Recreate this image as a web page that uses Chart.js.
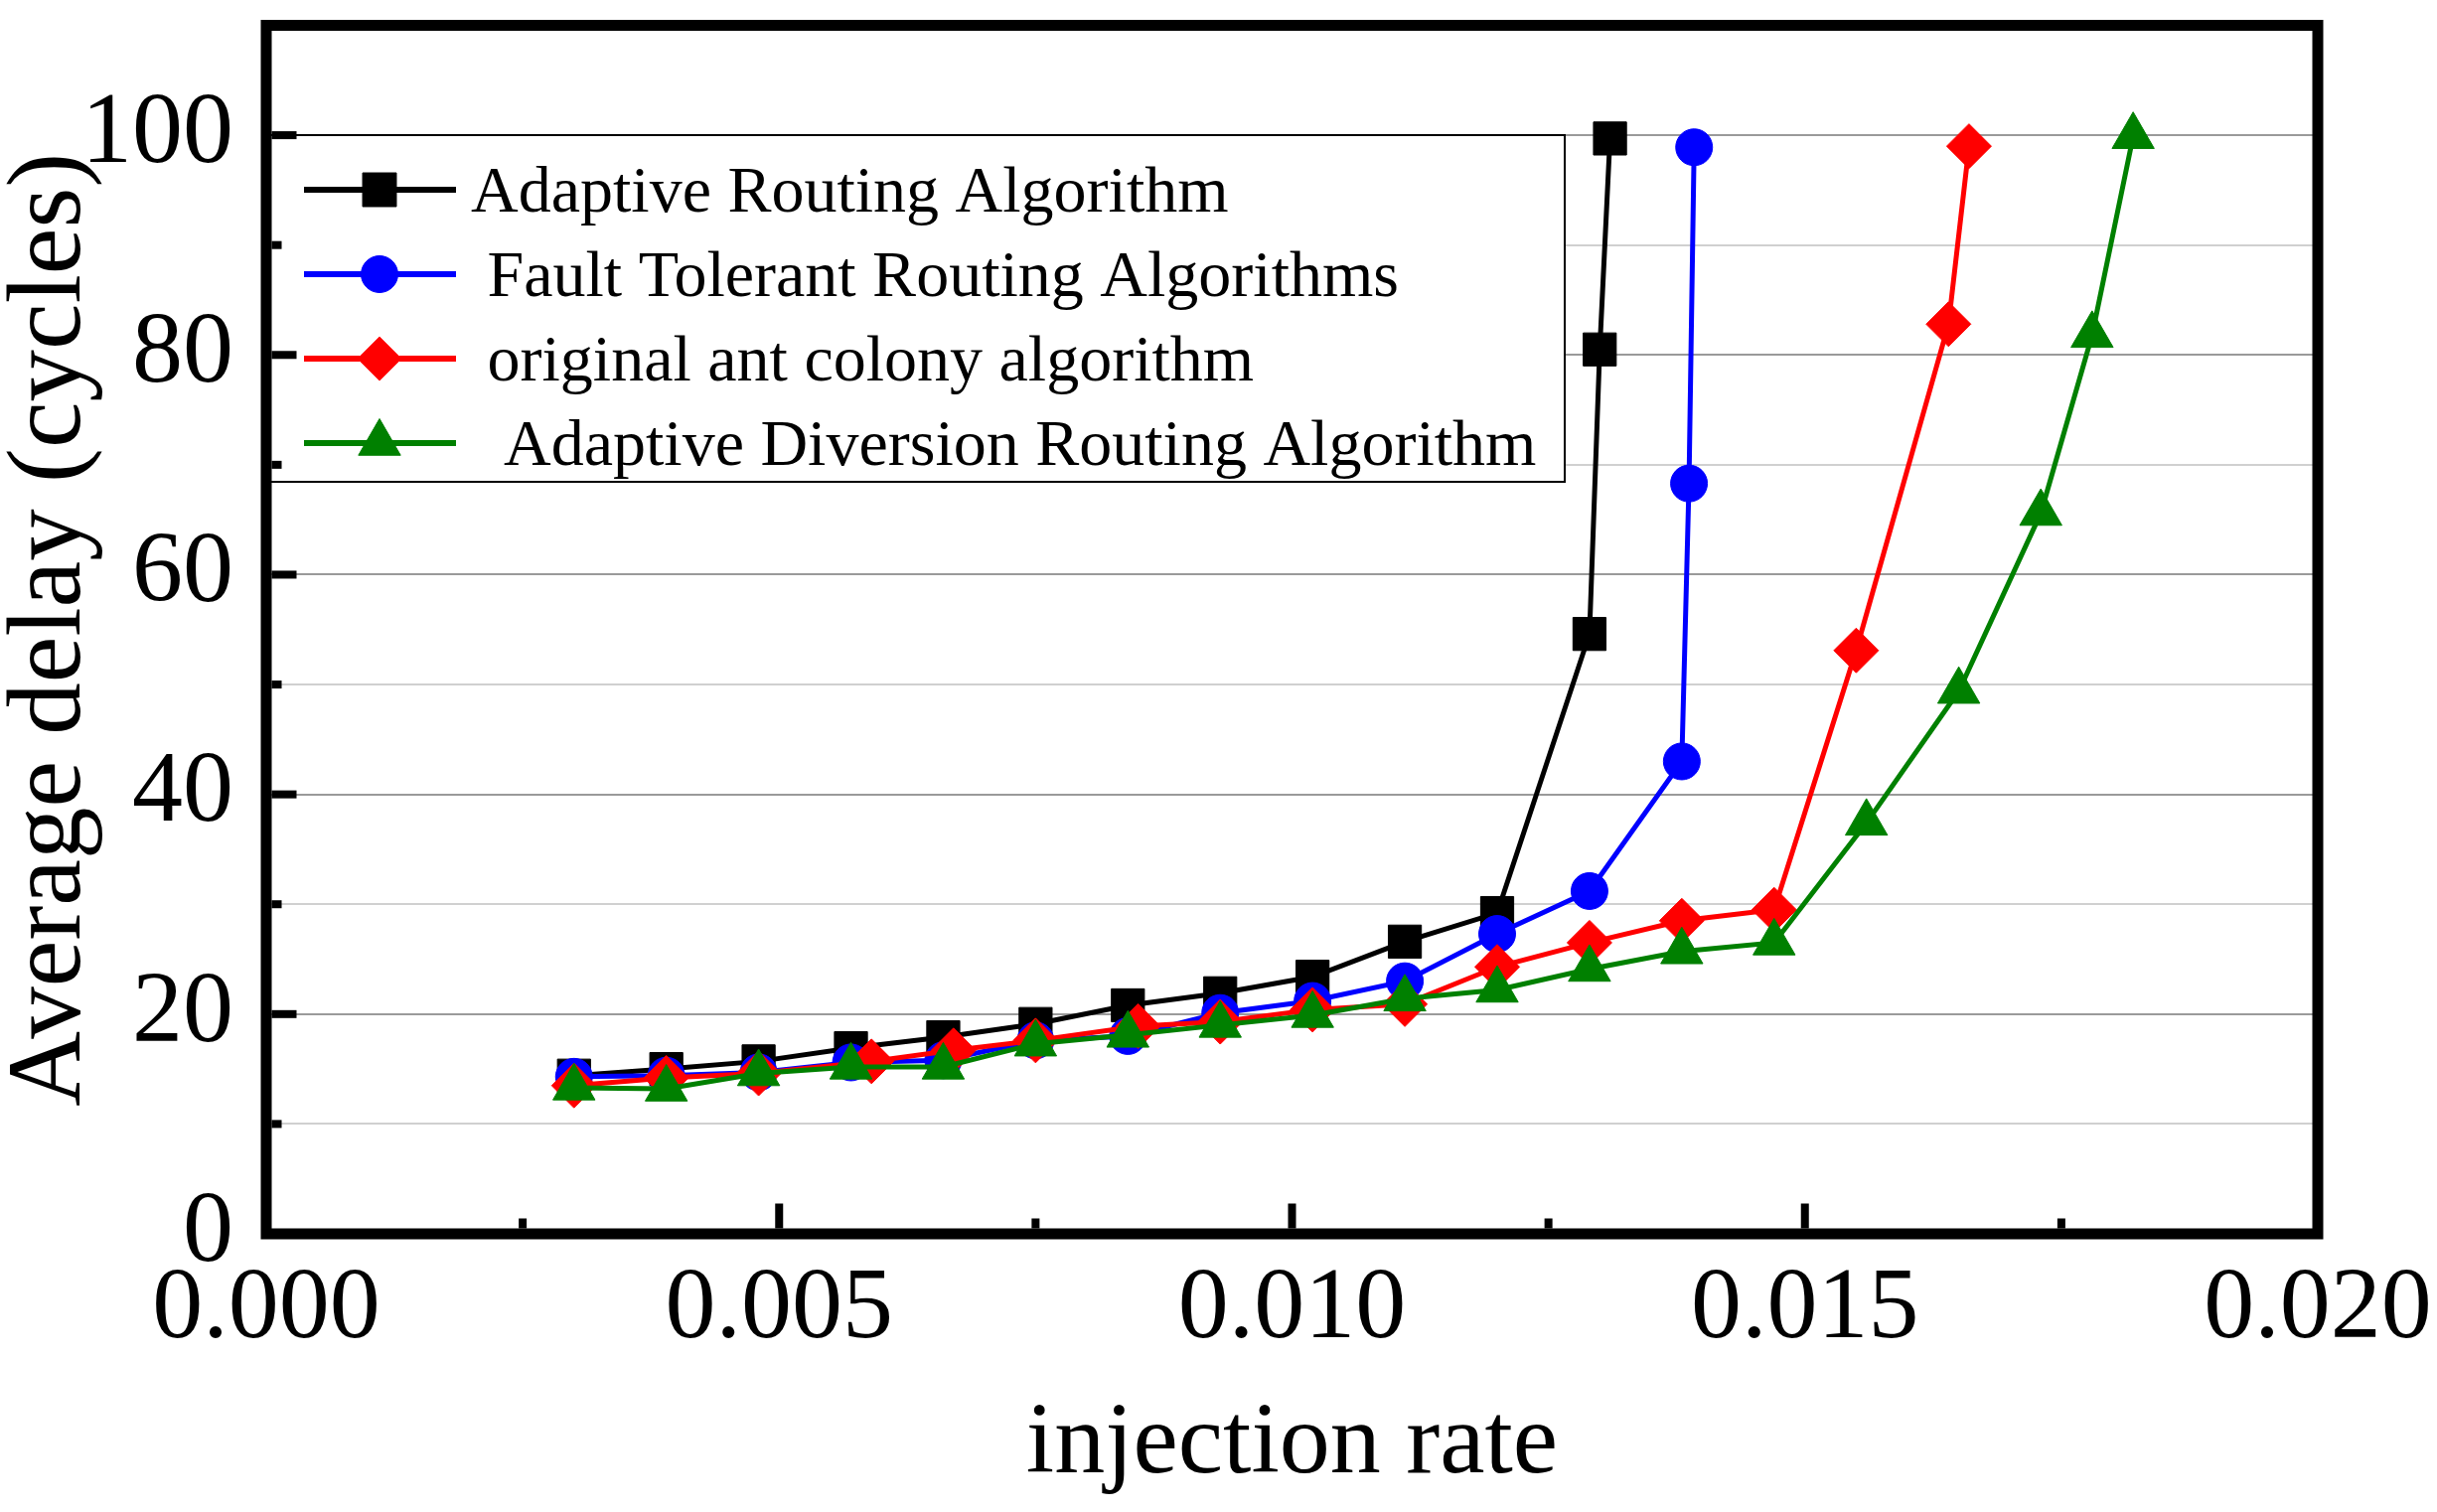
<!DOCTYPE html>
<html lang="en">
<head>
<meta charset="UTF-8">
<title>Average delay vs injection rate</title>
<script src="https://cdn.jsdelivr.net/npm/chart.js"></script>
<style>
    html, body { margin: 0; padding: 0; background: #fff; overflow: hidden; }
    #chart { display: block; }
</style>
</head>
<body>
<canvas id="chart" width="2453" height="1522"></canvas>
<script>
// legend names (the leading spaces are in the original figure)
const seriesNames = [
    'Adaptive Routing Algorithm',
    ' Fault Tolerant Routing Algorithms',
    ' original ant colony algorithm',
    '  Adaptive Diversion Routing Algorithm'
];

// injection rate / average delay (cycles)
const adaptiveX = [0.0030, 0.0039, 0.0048, 0.0057, 0.0066, 0.0075, 0.0084, 0.0093, 0.0102, 0.0111, 0.0120, 0.0129, 0.0130, 0.0131];
const adaptiveY = [14.4, 15.0, 15.7, 16.9, 17.9, 19.1, 20.8, 21.9, 23.4, 26.6, 29.2, 54.6, 80.5, 99.7];

const faultX = [0.0030, 0.0039, 0.0048, 0.0057, 0.0066, 0.0075, 0.0084, 0.0093, 0.0102, 0.0111, 0.0120, 0.0129, 0.0138, 0.01387, 0.01392];
const faultY = [14.3, 14.4, 14.7, 15.6, 15.8, 17.6, 18.0, 20.1, 21.2, 23.0, 27.3, 31.2, 43.0, 68.3, 98.9];

const antX = [0.0030, 0.0039, 0.0048, 0.0059, 0.0067, 0.0075, 0.0085, 0.0093, 0.0102, 0.0111, 0.0120, 0.0129, 0.0138, 0.0147, 0.0155, 0.0164, 0.0166];
const antY = [13.5, 14.2, 14.6, 15.7, 16.7, 17.6, 18.9, 19.3, 20.4, 20.9, 24.3, 26.5, 28.5, 29.5, 53.1, 82.8, 99.0];

const diversionX = [0.0030, 0.0039, 0.0048, 0.0057, 0.0066, 0.0075, 0.0084, 0.0093, 0.0102, 0.0111, 0.0120, 0.0129, 0.0138, 0.0147, 0.0156, 0.0165, 0.0173, 0.0178, 0.0182];
const diversionY = [13.3, 13.2, 14.6, 15.2, 15.2, 17.3, 18.1, 19.0, 19.9, 21.4, 22.2, 24.1, 25.7, 26.5, 37.4, 49.4, 65.6, 81.8, 99.9];

const xTickLabels = ['0.000', '0.005', '0.010', '0.015', '0.020'];
const yTickLabels = ['0', '20', '40', '60', '80', '100'];

const serif = "'Liberation Serif', 'Times New Roman', serif";

function pairs(xs, ys) {
    return xs.map((x, i) => ({ x: x, y: ys[i] }));
}

function series(i, xs, ys, color, style, radius, order) {
    return {
        label: seriesNames[i],
        data: pairs(xs, ys),
        borderColor: color,
        backgroundColor: color,
        pointBackgroundColor: color,
        pointBorderColor: color,
        pointBorderWidth: 1,
        pointStyle: style,
        pointRadius: radius,
        borderWidth: 5,
        showLine: true,
        tension: 0,
        order: order
    };
}

const legendRadius = [24, 18.5, 22, 24.5];

function isMajorX(v) {
    return Math.abs(v * 200 - Math.round(v * 200)) < 1e-6;
}

// the tick labels must not push the plot box around
function noPadding(scale) {
    scale.paddingTop = 0;
    scale.paddingBottom = 0;
    scale.paddingLeft = 0;
    scale.paddingRight = 0;
}

// thick box round the plot and inward tick marks
const frameAndTicks = {
    id: 'frameAndTicks',
    afterDraw(chart) {
        const { ctx, chartArea: a, scales: { x, y } } = chart;
        const bw = 11, tw = 8;
        ctx.save();
        ctx.fillStyle = '#000';
        x.ticks.forEach(t => {
            if (t.value <= x.min || t.value >= x.max) return;
            const px = x.getPixelForValue(t.value);
            const len = isMajorX(t.value) ? 25 : 10;
            ctx.fillRect(px - tw / 2, a.bottom - bw / 2 - len, tw, len);
        });
        y.ticks.forEach(t => {
            if (t.value <= y.min || t.value >= y.max) return;
            const py = y.getPixelForValue(t.value);
            const len = t.value % 20 === 0 ? 25 : 10;
            ctx.fillRect(a.left + bw / 2, py - tw / 2, len, tw);
        });
        ctx.lineWidth = bw;
        ctx.strokeStyle = '#000';
        ctx.strokeRect(a.left, a.top, a.right - a.left, a.bottom - a.top);
        ctx.restore();
    }
};

// boxed legend with line + marker samples
const boxLegend = {
    id: 'boxLegend',
    afterDatasetsDraw(chart) {
        const ctx = chart.ctx;
        const left = 272, top = 136, right = 1575, bottom = 485;
        ctx.save();
        ctx.fillStyle = '#fff';
        ctx.fillRect(left, top, right - left, bottom - top);
        ctx.lineWidth = 2;
        ctx.strokeStyle = '#000';
        ctx.strokeRect(left, top, right - left, bottom - top);
        ctx.font = '66px ' + serif;
        ctx.textBaseline = 'alphabetic';
        ctx.textAlign = 'left';
        chart.data.datasets.forEach((ds, i) => {
            const rowY = 191 + i * 85;
            ctx.strokeStyle = ds.borderColor;
            ctx.lineWidth = 6;
            ctx.beginPath();
            ctx.moveTo(306, rowY);
            ctx.lineTo(459, rowY);
            ctx.stroke();
            ctx.fillStyle = ds.pointBackgroundColor;
            ctx.lineWidth = 1;
            Chart.helpers.drawPoint(ctx, {
                pointStyle: ds.pointStyle, radius: legendRadius[i], rotation: 0, borderWidth: 1
            }, 382, rowY);
            ctx.fillStyle = '#000';
            ctx.fillText(ds.label, 474, rowY + 22);
        });
        ctx.restore();
    }
};

new Chart(document.getElementById('chart'), {
    type: 'scatter',
    data: {
        datasets: [
            series(0, adaptiveX, adaptiveY, '#000000', 'rect', 23.5, 3),
            series(1, faultX, faultY, '#0000ff', 'circle', 18.5, 2),
            series(2, antX, antY, '#ff0000', 'rectRot', 22.5, 1),
            series(3, diversionX, diversionY, '#008000', 'triangle', 24.5, 0)
        ]
    },
    options: {
        responsive: false,
        animation: false,
        devicePixelRatio: 1,
        layout: { padding: { left: 0, top: 24, right: 120, bottom: 0 } },
        plugins: {
            legend: { display: false },
            tooltip: { enabled: false }
        },
        scales: {
            x: {
                type: 'linear',
                min: 0,
                max: 0.02,
                afterFit(scale) { scale.height = 280; noPadding(scale); },
                border: { display: false },
                grid: { drawOnChartArea: false, drawTicks: false },
                ticks: {
                    stepSize: 0.0025,
                    autoSkip: false,
                    maxRotation: 0,
                    padding: 16,
                    color: '#000',
                    font: { family: serif, size: 102 },
                    callback: v => xTickLabels.find(s => Math.abs(parseFloat(s) - v) < 1e-9) || ''
                },
                title: {
                    display: true,
                    text: 'injection rate',
                    color: '#000',
                    font: { family: serif, size: 102 },
                    padding: { top: 0, bottom: 6 }
                }
            },
            y: {
                type: 'linear',
                min: 0,
                max: 110,
                afterFit(scale) { scale.width = 268; noPadding(scale); },
                border: { display: false },
                grid: {
                    drawTicks: false,
                    lineWidth: 2,
                    color: c => (c.tick.value % 20 === 0 ? '#9a9a9a' : '#d0d0d0')
                },
                ticks: {
                    stepSize: 10,
                    autoSkip: false,
                    padding: 33,
                    color: '#000',
                    font: { family: serif, size: 102 },
                    callback: v => yTickLabels.find(s => parseFloat(s) === v) || ''
                },
                title: {
                    display: true,
                    text: 'Average delay (cycles)',
                    color: '#000',
                    font: { family: serif, size: 105, lineHeight: 1.0 },
                    padding: { top: 0, bottom: 0 }
                }
            }
        }
    },
    plugins: [boxLegend, frameAndTicks]
});
</script>
</body>
</html>
